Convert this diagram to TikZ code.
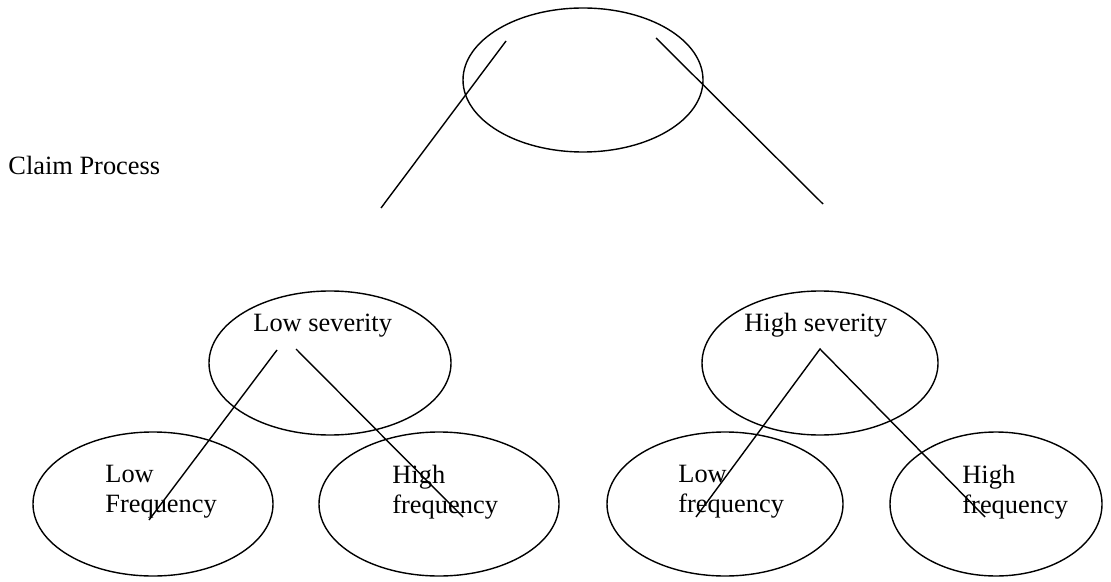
\documentclass[tikz,border=0pt]{standalone}
\usepackage{fontspec}
\setmainfont{Liberation Serif}
\usetikzlibrary{shapes.geometric}

\tikzset{
  oval/.style={draw, ellipse, inner sep=0pt, line width=0.7pt},
  lbl/.style={inner sep=0pt, anchor=base west, align=left},
  twoline/.style={inner sep=0pt, anchor=north west, align=left},
  link/.style={line width=0.7pt}
}

\begin{document}
\begin{tikzpicture}[x=0.5pt, y=-0.5pt, font=\fontsize{13.2}{15}\selectfont]
  % page frame
  \useasboundingbox (0,0) rectangle (1111,582);

  % Ellipses
  \node[oval, minimum width=120pt, minimum height=72pt] (root) at (583,80) {};
  \node[oval, minimum width=121pt, minimum height=72pt] (sevlo) at (330,363) {};
  \node[oval, minimum width=118pt, minimum height=72pt] (sevhi) at (820,363) {};
  \foreach \n/\x/\w in {frqa/153/120, frqb/439/120, frqc/725/118, frqd/996/106} {
    \node[oval, minimum width=\w pt, minimum height=72pt] (\n) at (\x,504) {};
  }

  % Texts
  \node[lbl] (title) at (8,175) {Claim Process};
  \node[lbl] (lowsev) at (253,331) {Low severity};
  \node[lbl] (highsev) at (744,331) {High severity};
  \node[twoline] (lowfa) at (105,465) {Low\\Frequency};
  \node[twoline] (highfa) at (392,465) {High\\frequency};
  \node[twoline] (lowfb) at (678,465) {Low\\frequency};
  \node[twoline] (highfb) at (962,465) {High\\frequency};

  % Line ends
  \coordinate (rla) at (506,41);
  \coordinate (rlb) at (381,208);
  \coordinate (rra) at (656,38);
  \coordinate (rrb) at (823,204);
  \coordinate (sla) at (277,350);
  \coordinate (slb) at (296,349);
  \coordinate (sha) at (820,349);
  \coordinate (fa) at (149,520);
  \coordinate (fb) at (463,517);
  \coordinate (fc) at (696,517);
  \coordinate (fd) at (985,517);

  % Lines
  \draw[link] (rla) -- (rlb);
  \draw[link] (rra) -- (rrb);
  \draw[link] (sla) -- (fa);
  \draw[link] (slb) -- (fb);
  \draw[link] (fc) -- (sha) -- (fd);
\end{tikzpicture}
\end{document}
